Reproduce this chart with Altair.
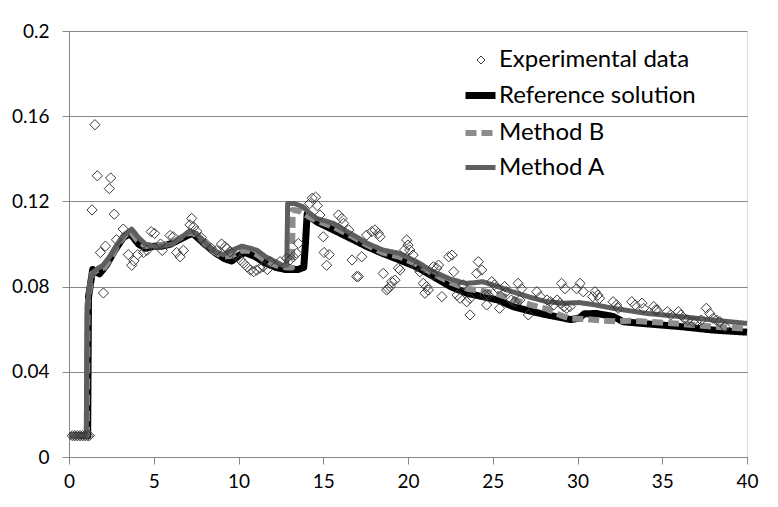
import altair as alt
import pandas as pd

# ---------------- data ----------------
exp_x = [0.2, 0.35, 0.5, 0.65, 0.8, 0.95, 1.1, 1.2,
         1.36, 1.53, 1.67, 1.85, 2.03, 2.15, 2.38, 2.46, 2.67, 2.8, 3.2, 3.5, 3.7, 3.83,
         4.05, 4.4, 4.6, 4.85, 5.05, 5.4, 5.5, 5.96, 6.15, 6.35, 6.55, 6.75, 7.14, 7.24,
         7.35, 7.53, 7.8, 8.1, 8.4, 8.7, 9.0, 9.2, 9.3, 9.5, 9.9, 10.1, 10.3, 10.5, 10.7,
         10.9, 11.07, 11.27, 11.46, 11.7, 11.86, 12.45, 12.84, 13.04, 13.23, 13.43, 13.53,
         14.2, 14.35, 14.55, 14.65, 14.8, 15.0, 15.05, 15.35, 15.2, 15.9, 16.1, 16.2, 16.5,
         16.7, 16.97, 17.07, 17.27, 17.56, 17.86, 18.05, 18.25, 18.35, 18.54, 18.74, 18.84,
         18.94, 19.04, 19.23, 19.43, 19.53, 19.8, 19.92, 20.0, 20.1, 20.3, 20.5, 20.7, 20.9,
         21.0, 21.1, 21.2, 21.5, 21.5, 21.7, 21.8, 22.0, 22.4, 22.6, 22.7, 22.9, 23.07,
         23.26, 23.46, 23.66, 23.66, 24.05, 24.15, 24.35, 24.54, 24.64, 24.74, 24.94, 25.1,
         25.3, 25.4, 25.7, 25.8, 26.1, 26.3, 26.5, 26.6, 26.7, 27.1, 27.6, 27.8, 28.2, 28.4,
         28.6, 28.8, 28.97, 29.06, 29.2, 29.26, 29.36, 29.56, 29.95, 30.15, 30.34, 30.9,
         31.03, 31.2, 31.3, 32.1, 32.3, 32.4, 33.2, 33.4, 33.8, 33.9, 34.5, 34.6, 34.7, 35.3,
         35.5, 35.95, 36.1, 36.3, 36.5, 36.8, 37.0, 37.3, 37.6, 37.8, 38.0, 38.2, 38.4, 38.7]
exp_y = [0.01, 0.01, 0.01, 0.01, 0.01, 0.01, 0.01, 0.01,
         0.116, 0.156, 0.132, 0.096, 0.077, 0.099, 0.126, 0.131, 0.114, 0.102, 0.107, 0.095,
         0.09, 0.092, 0.095, 0.096, 0.097, 0.1058, 0.105, 0.1, 0.097, 0.104, 0.1034, 0.096,
         0.094, 0.097, 0.109, 0.112, 0.108, 0.106, 0.103, 0.1, 0.098, 0.097, 0.1, 0.0987,
         0.098, 0.0964, 0.094, 0.0925, 0.091, 0.0893, 0.0878, 0.087, 0.0878, 0.0886, 0.0893,
         0.088, 0.0917, 0.0917, 0.0933, 0.0925, 0.094, 0.0956, 0.1003,
         0.119, 0.1215, 0.122, 0.118, 0.1136, 0.1034, 0.096, 0.095, 0.09, 0.1136, 0.112,
         0.1097, 0.1066, 0.0925, 0.0847, 0.0847, 0.094, 0.1042, 0.1058, 0.1066, 0.105,
         0.1034, 0.0862, 0.0784, 0.079, 0.08, 0.0823, 0.083, 0.0886, 0.0878, 0.0972, 0.1019,
         0.0995, 0.0972, 0.0948, 0.0893, 0.087, 0.0815, 0.0769, 0.08, 0.0784, 0.0893, 0.0854,
         0.0886, 0.0901, 0.0753, 0.094, 0.0948, 0.087, 0.076, 0.0745, 0.0808, 0.0729, 0.0745,
         0.0667, 0.0862, 0.0917, 0.0878, 0.076, 0.0714, 0.076, 0.0823, 0.0808, 0.079, 0.0698,
         0.08, 0.0776, 0.0737, 0.0729, 0.0815, 0.0737, 0.079, 0.0667, 0.0776, 0.0753, 0.0737,
         0.0729, 0.0714, 0.0737, 0.0722, 0.0815, 0.0706, 0.079, 0.0698, 0.0706, 0.079,
         0.0815, 0.0776, 0.0753, 0.0776, 0.076, 0.0745, 0.0729, 0.0714, 0.0698, 0.0729,
         0.0714, 0.0722, 0.0698, 0.0706, 0.069, 0.069, 0.0682, 0.0667, 0.0682, 0.0667,
         0.0651, 0.0643, 0.0635, 0.0635, 0.0643, 0.0698, 0.0674, 0.0651, 0.0643, 0.0635,
         0.0612]

ref_x = [0, 1.1, 1.15, 1.4, 1.8, 2.2, 2.7, 3.2, 3.6, 4.1, 4.5, 5.0, 5.5, 6.0, 6.5, 7.0,
         7.3, 8.0, 8.6, 9.2, 9.6, 10.1, 10.4, 11.0, 11.6, 12.2, 12.8, 13.5, 13.85, 13.95,
         14.05, 14.6, 15.6, 16.6, 17.6, 18.5, 19.5, 20.5, 21.5, 22.5, 23.5, 24.4, 25.3, 26.2,
         27.2, 28.2, 29.0, 29.6, 30.1, 30.4, 31.1, 32.1, 32.7, 34.1, 36.1, 38.0, 40.0]
ref_y = [0.01, 0.01, 0.075, 0.088, 0.086, 0.09, 0.097, 0.103, 0.105, 0.1, 0.098, 0.099,
         0.099, 0.1, 0.102, 0.104, 0.105, 0.1, 0.096, 0.093, 0.092, 0.095, 0.096, 0.094,
         0.091, 0.089, 0.088, 0.088, 0.089, 0.1, 0.114, 0.1105, 0.1066, 0.1027, 0.0987,
         0.0956, 0.0925, 0.0893, 0.0847, 0.08, 0.0768, 0.0753, 0.0737, 0.0706, 0.0685,
         0.0667, 0.0655, 0.0645, 0.0652, 0.0672, 0.0674, 0.066, 0.0635, 0.0625, 0.0612,
         0.0596, 0.0586]

mb_x = [0, 1.05, 1.1, 1.35, 1.7, 2.1, 2.5, 2.9, 3.3, 3.6, 4.0, 4.5, 5.0, 5.5, 6.0, 6.6,
        7.1, 7.5, 8.0, 8.5, 9.1, 9.6, 10.2, 10.6, 11.1, 11.6, 12.2, 12.8, 13.15, 13.2,
        13.6, 14.1, 14.6, 15.6, 16.6, 17.6, 18.5, 19.5, 20.5, 21.5, 22.5, 23.5, 24.4, 25.3,
        26.2, 27.2, 28.2, 29.0, 29.6, 30.5, 31.5, 32.3, 33.1, 34.1, 36.1, 38.0, 40.0]
mb_y = [0.01, 0.01, 0.072, 0.086, 0.088, 0.089, 0.094, 0.1, 0.104, 0.106, 0.102, 0.099,
        0.0995, 0.0995, 0.1005, 0.103, 0.1055, 0.1045, 0.1005, 0.0965, 0.094, 0.0945,
        0.097, 0.0968, 0.095, 0.092, 0.09, 0.089, 0.089, 0.116, 0.1155, 0.113, 0.111,
        0.108, 0.104, 0.0995, 0.096, 0.094, 0.0905, 0.086, 0.082, 0.079, 0.078, 0.0765,
        0.074, 0.0715, 0.0695, 0.0665, 0.065, 0.0648, 0.064, 0.0637, 0.064, 0.0635,
        0.0625, 0.0612, 0.0602]

ma_x = [0, 1.02, 1.07, 1.3, 1.6, 2.0, 2.4, 2.8, 3.2, 3.7, 4.1, 4.5, 5.0, 5.5, 6.1, 6.6,
        7.1, 7.5, 8.0, 8.5, 9.1, 9.6, 10.2, 10.7, 11.1, 11.6, 12.1, 12.6, 12.85, 12.9,
        13.3, 13.8, 14.2, 14.6, 15.6, 16.6, 17.6, 18.5, 19.5, 20.5, 21.5, 22.5, 23.4, 23.9,
        24.4, 25.3, 26.2, 27.2, 28.2, 29.2, 30.1, 31.0, 32.1, 33.1, 34.1, 36.1, 38.0, 40.0]
ma_y = [0.01, 0.01, 0.07, 0.085, 0.088, 0.09, 0.094, 0.099, 0.104, 0.107, 0.103, 0.1,
        0.099, 0.099, 0.1, 0.103, 0.106, 0.105, 0.101, 0.097, 0.095, 0.097, 0.099, 0.098,
        0.097, 0.094, 0.092, 0.09, 0.09, 0.119, 0.119, 0.1175, 0.1145, 0.112, 0.1097,
        0.105, 0.1003, 0.0972, 0.0956, 0.0917, 0.087, 0.0835, 0.0815, 0.0818, 0.0823, 0.08,
        0.0775, 0.075, 0.0729, 0.0722, 0.0725, 0.0715, 0.0698, 0.0686, 0.0674, 0.0659,
        0.0643, 0.0627]

exp_name = "Experimental data"
line_names = ["Reference solution", "Method B", "Method A"]
line_colors = ["#000000", "#8c8c8c", "#5e5e5e"]
line_widths = [7, 5, 5]
line_dashes = [[1, 0], [11, 5], [1, 0]]
x_ticks = [0, 5, 10, 15, 20, 25, 30, 35, 40]
y_ticks = [0, 0.04, 0.08, 0.12, 0.16, 0.2]

# ---------------- tables ----------------
rows = []
for name, xs, ys in zip(line_names, [ref_x, mb_x, ma_x], [ref_y, mb_y, ma_y]):
    for i, (xv, yv) in enumerate(zip(xs, ys)):
        rows.append({"x": xv, "y": yv, "series": name, "i": i})
lines_df = pd.DataFrame(rows)
pts_df = pd.DataFrame({"x": exp_x, "y": exp_y, "kind": exp_name})

FONT = "Lato"
AXIS_C = "#868686"
LFS = 24

xscale = alt.Scale(domain=[0, 40], nice=False, zero=False)
yscale = alt.Scale(domain=[0, 0.2], nice=False)

x_enc = alt.X("x:Q", scale=xscale, title=None,
              axis=alt.Axis(values=x_ticks, grid=False, tickSize=7, labelPadding=8,
                            labelFontSize=19, labelFont=FONT, labelColor="#000",
                            domainColor=AXIS_C, tickColor=AXIS_C, labelFlush=False))
y_enc = alt.Y("y:Q", scale=yscale, title=None,
              axis=alt.Axis(values=y_ticks, format="~g", grid=True, gridColor=AXIS_C,
                            tickSize=7, labelPadding=13, labelFontSize=19, labelFont=FONT,
                            labelColor="#000", domainColor=AXIS_C, tickColor=AXIS_C))

line_legend = alt.Legend(
    title=None, orient="none", legendX=393, legendY=46, padding=0,
    symbolType="stroke", symbolSize=900,
    labelFontSize=LFS, labelFont=FONT, labelColor="#000", labelOffset=0,
    rowPadding=5, labelLimit=400,
)
pt_legend = alt.Legend(
    title=None, orient="none", legendX=400, legendY=17, padding=0,
    symbolType="diamond", symbolSize=64, symbolStrokeWidth=1,
    symbolFillColor="transparent", symbolStrokeColor="#3a3a3a",
    labelFontSize=LFS, labelFont=FONT, labelColor="#000", labelOffset=6,
    labelLimit=400,
)

stroke_enc = alt.Stroke("series:N",
                        scale=alt.Scale(domain=line_names, range=line_colors),
                        legend=line_legend)
width_enc = alt.StrokeWidth("series:N",
                            scale=alt.Scale(domain=line_names, range=line_widths),
                            legend=line_legend)
dash_enc = alt.StrokeDash("series:N",
                          scale=alt.Scale(domain=line_names, range=line_dashes),
                          legend=line_legend)

base = alt.Chart(lines_df)


def line_layer(name):
    return base.transform_filter(alt.datum.series == name).mark_line(
        strokeJoin="round", strokeCap="butt"
    ).encode(x=x_enc, y=y_enc, stroke=stroke_enc, strokeWidth=width_enc,
             strokeDash=dash_enc, order=alt.Order("i:Q"))


points = alt.Chart(pts_df).mark_point(
    filled=False, size=105, stroke="#3a3a3a", strokeWidth=1, opacity=1
).encode(
    x=alt.X("x:Q", scale=xscale),
    y=alt.Y("y:Q", scale=yscale),
    shape=alt.Shape("kind:N", scale=alt.Scale(domain=[exp_name], range=["diamond"]),
                    legend=pt_legend),
)

chart = alt.layer(
    line_layer("Reference solution"),
    line_layer("Method B"),
    line_layer("Method A"),
    points,
).resolve_legend(shape="independent").properties(
    width=678, height=426,
    autosize=alt.AutoSizeParams(type="none"),
    padding={"left": 61, "top": 23, "right": 23, "bottom": 42},
).configure_view(stroke=None).configure(background="white")

chart.save("out.html", embed_options={"renderer": "svg", "actions": False})
